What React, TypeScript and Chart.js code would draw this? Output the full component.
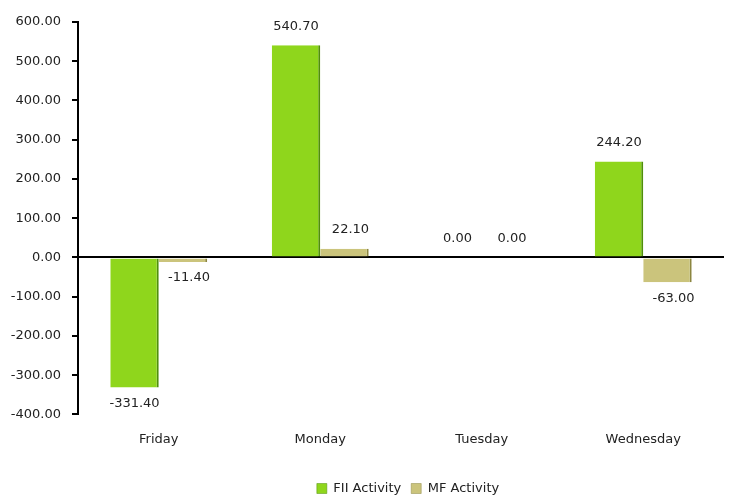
import React, { useEffect, useRef } from "react";
import { Chart, registerables } from "chart.js";

Chart.register(...registerables);

const categories = ["Friday", "Monday", "Tuesday", "Wednesday"];
const fiiActivity = [-331.4, 540.7, 0.0, 244.2];
const mfActivity = [-11.4, 22.1, 0.0, -63.0];
const seriesNames = ["FII Activity", "MF Activity"];

const FONT = "'DejaVu Sans', Verdana, sans-serif";

const labelPlugin = {
  id: "valueLabels",
  afterLayout(chart: any) {
    if (chart.legend) {
      chart.legend.left += 46;
      chart.legend.right += 46;
      chart.legend.top += 6;
      chart.legend.bottom += 6;
    }
  },
  afterDatasetsDraw(chart: any) {
    const ctx = chart.ctx;
    ctx.save();
    ctx.font = `13px ${FONT}`;
    ctx.fillStyle = "#222";
    ctx.textAlign = "center";
    ctx.textBaseline = "middle";
    chart.data.datasets.forEach((ds: any, di: number) => {
      const meta = chart.getDatasetMeta(di);
      meta.data.forEach((el: any, i: number) => {
        const v = ds.data[i] as number;
        const y = v >= 0 ? el.y - 19 : el.y + 16;
        const x = di === 1 ? el.x + 6 : el.x;
        ctx.fillText(v.toFixed(2), x, y);
      });
    });
    ctx.restore();
  },
};

export default function App() {
  const ref = useRef<HTMLCanvasElement>(null);
  useEffect(() => {
    const chart = new Chart(ref.current!, {
      type: "bar",
      data: {
        labels: categories,
        datasets: [
          {
            label: seriesNames[0],
            data: fiiActivity,
            backgroundColor: "#8fd61c",
            borderColor: "#4f8f0a",
            borderWidth: { right: 2, left: 0, top: 0, bottom: 0 } as any,
            borderSkipped: false,
          },
          {
            label: seriesNames[1],
            data: mfActivity,
            backgroundColor: "#cbc47c",
            borderColor: "#8c8640",
            borderWidth: { right: 2, left: 0, top: 0, bottom: 0 } as any,
            borderSkipped: false,
          },
        ],
      },
      options: {
        animation: false,
        responsive: true,
        maintainAspectRatio: false,
        layout: { padding: { top: 22, right: 26, left: 0, bottom: 0 } },
        datasets: { bar: { barPercentage: 1, categoryPercentage: 0.6 } },
        plugins: {
          legend: {
            position: "bottom",
            labels: {
              font: { family: FONT, size: 13 },
              color: "#222",
              boxWidth: 10,
              boxHeight: 10,
              padding: 10,
            },
          },
          tooltip: { enabled: false },
        },
        scales: {
          x: {
            grid: { display: false },
            border: { display: false },
            ticks: { font: { family: FONT, size: 13 }, color: "#222", padding: 9 },
            afterFit: (s: any) => {
              s.height += 10;
            },
          },
          y: {
            min: -400,
            max: 600,
            ticks: {
              stepSize: 100,
              font: { family: FONT, size: 13 },
              color: "#222",
              padding: 11,
              callback: (v: any) => Number(v).toFixed(2),
            },
            grid: {
              drawOnChartArea: true,
              color: (c: any) => (c.tick && c.tick.value === 0 ? "#000" : "transparent"),
              lineWidth: 2,
              tickColor: "#000",
              tickLength: 6,
            },
            border: { display: true, color: "#000", width: 2 },
            afterFit: (s: any) => {
              s.width = 78;
            },
          },
        },
      },
      plugins: [labelPlugin],
    });
    return () => chart.destroy();
  }, []);
  return (
    <div style={{ position: "fixed", left: 0, top: 0, width: 750, height: 499, background: "#fff" }}>
      <canvas ref={ref} />
    </div>
  );
}
